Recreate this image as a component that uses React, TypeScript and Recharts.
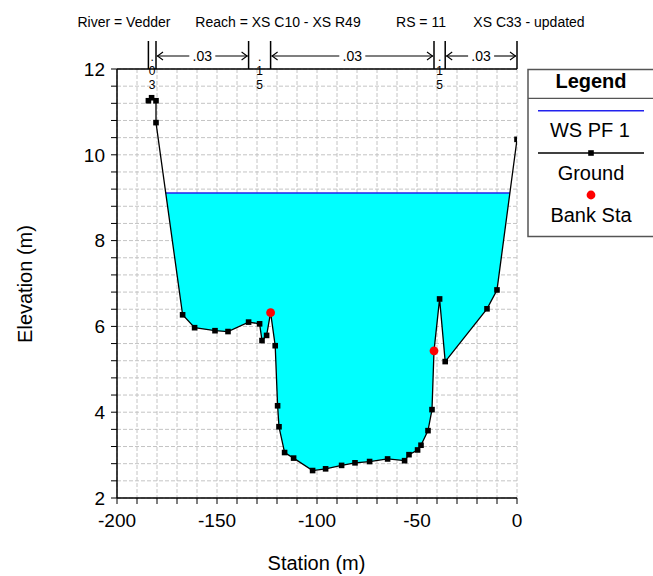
import React from 'react';
import {
  ComposedChart,
  Area,
  Line,
  XAxis,
  YAxis,
  CartesianGrid,
  ReferenceLine,
  Customized,
} from 'recharts';

const FONT = '"Liberation Sans", Arial, Helvetica, sans-serif';

const titleParts = ['River = Vedder', 'Reach = XS C10 - XS R49', 'RS = 11', 'XS C33 - updated'];
const titleCenters = [124, 278, 421, 529];

const groundStation = [
  -184.3, -182.7, -180.5, -180.5, -167.2, -161.2, -151, -144.5, -134.2, -128.7, -127.5, -125.2,
  -123.2, -120.9, -119.7, -119, -116.2, -111.7, -102.2, -95.7, -87.7, -81, -73.7, -64.7, -56.2,
  -54, -49.7, -48, -44.5, -42.5, -41.5, -38.7, -35.9, -15, -10, 0,
];
const groundElev = [
  11.26, 11.33, 11.26, 10.75, 6.27, 5.97, 5.9, 5.88, 6.1, 6.06, 5.67, 5.79, 6.32, 5.55, 4.15, 3.66,
  3.06, 2.93, 2.64, 2.68, 2.76, 2.82, 2.85, 2.91, 2.87, 3.01, 3.12, 3.23, 3.57, 4.06, 5.43, 6.64,
  5.18, 6.41, 6.85, 10.36,
];
const bankStation = [-123.2, -41.5];
const wsElevation = 9.11;

const nBreaks = [-184.3, -180.5, -134.2, -123.2, -41.5, -35.9, 0];
const nValues = ['.03', '.03', '.15', '.03', '.15', '.03'];
const nTopElev = 12.653;
const nArrowElev = 12.303;

const xTicks = [-200, -190, -180, -170, -160, -150, -140, -130, -120, -110, -100, -90, -80, -70, -60, -50, -40, -30, -20, -10, 0];
const xLabelTicks = [-200, -150, -100, -50, 0];
const yTicks = [2, 2.4, 2.8, 3.2, 3.6, 4, 4.4, 4.8, 5.2, 5.6, 6, 6.4, 6.8, 7.2, 7.6, 8, 8.4, 8.8, 9.2, 9.6, 10, 10.4, 10.8, 11.2, 11.6, 12];
const yLabelTicks = [2, 4, 6, 8, 10, 12];

type Row = {
  station: number;
  ground?: number | null;
  water?: [number, number] | null;
  ws?: number | null;
  bank?: number | null;
};

function buildRows(): Row[] {
  const n = groundStation.length;
  let leftIdx = -1;
  let rightIdx = -1;
  for (let i = 0; i < n - 1; i++) {
    if (leftIdx < 0 && groundElev[i] >= wsElevation && groundElev[i + 1] < wsElevation) leftIdx = i;
    if (groundElev[i] < wsElevation && groundElev[i + 1] >= wsElevation) rightIdx = i;
  }
  const cross = (i: number) => {
    const t = (wsElevation - groundElev[i]) / (groundElev[i + 1] - groundElev[i]);
    return groundStation[i] + t * (groundStation[i + 1] - groundStation[i]);
  };
  const rows: Row[] = [];
  for (let i = 0; i < n; i++) {
    const s = groundStation[i];
    const g = groundElev[i];
    const inWater = i > leftIdx && i <= rightIdx;
    rows.push({
      station: s,
      ground: g,
      water: inWater ? [g, wsElevation] : null,
      ws: null,
      bank: bankStation.includes(s) ? g : null,
    });
    if (i === leftIdx || i === rightIdx) {
      rows.push({
        station: cross(i),
        ground: null,
        water: [wsElevation, wsElevation],
        ws: wsElevation,
        bank: null,
      });
    }
  }
  return rows;
}

const rows = buildRows();

const GroundDot = (props: any) => {
  const { cx, cy, payload, index } = props;
  if (payload == null || payload.ground == null || cx == null || cy == null) return <g key={`gd${index}`} />;
  return <rect key={`gd${index}`} x={cx - 2.8} y={cy - 2.8} width={5.6} height={5.6} fill="#000" />;
};

const BankDot = (props: any) => {
  const { cx, cy, payload, index } = props;
  if (payload == null || payload.bank == null || cx == null || cy == null) return <g key={`bd${index}`} />;
  return <circle key={`bd${index}`} cx={cx} cy={cy} r={4.4} fill="#ff0000" />;
};

const makeRegionShape = (label: string) => (props: any) => {
  const { x1, x2, y1 } = props;
  const left = Math.min(x1, x2);
  const right = Math.max(x1, x2);
  const y = y1;
  const mid = (left + right) / 2;
  if (right - left > 30) {
    const half = 13;
    return (
      <g>
        <line x1={left + 1} y1={y} x2={mid - half} y2={y} stroke="#000" strokeWidth={1.1} />
        <line x1={mid + half} y1={y} x2={right - 1} y2={y} stroke="#000" strokeWidth={1.1} />
        <polyline points={`${left + 7},${y - 4} ${left + 1.5},${y} ${left + 7},${y + 4}`} fill="none" stroke="#000" strokeWidth={1.1} />
        <polyline points={`${right - 7},${y - 4} ${right - 1.5},${y} ${right - 7},${y + 4}`} fill="none" stroke="#000" strokeWidth={1.1} />
        <text x={mid} y={y + 5} textAnchor="middle" fontSize={14} fontFamily={FONT} fill="#000">
          {label}
        </text>
      </g>
    );
  }
  const chars = label.split('');
  return (
    <g>
      {chars.map((c, k) => (
        <text key={k} x={mid} y={y + 5 + 14 * k} textAnchor="middle" fontSize={12} fontFamily={FONT} fill="#000">
          {c}
        </text>
      ))}
    </g>
  );
};

const Decorations = () => (
  <g fontFamily={FONT}>
    {titleParts.map((t, i) => (
      <text key={i} x={titleCenters[i]} y={26.5} textAnchor="middle" fontSize={14} fill="#000">
        {t}
      </text>
    ))}
    <text x={316.5} y={569.5} textAnchor="middle" fontSize={20} fill="#000">
      Station (m)
    </text>
    <text x={31.5} y={284} textAnchor="middle" fontSize={20} fill="#000" transform="rotate(-90 31.5 284)">
      Elevation (m)
    </text>
    <g>
      <rect x={528} y={69.5} width={140} height={167} fill="#fff" stroke="#555" strokeWidth={1.5} />
      <text x={591} y={88} textAnchor="middle" fontSize={20} fontWeight="bold" fill="#000">
        Legend
      </text>
      <line x1={528} y1={98.3} x2={653} y2={98.3} stroke="#555" strokeWidth={1.2} />
      <line x1={538} y1={110.7} x2={644} y2={110.7} stroke="#2222ee" strokeWidth={1.4} />
      <text x={590} y={137} textAnchor="middle" fontSize={20} fill="#000">
        WS PF 1
      </text>
      <line x1={538} y1={153} x2={644} y2={153} stroke="#000" strokeWidth={1.3} />
      <rect x={588.2} y={150.2} width={5.6} height={5.6} fill="#000" />
      <text x={591} y={180} textAnchor="middle" fontSize={20} fill="#000">
        Ground
      </text>
      <circle cx={591} cy={195} r={4.4} fill="#ff0000" />
      <text x={591} y={221.5} textAnchor="middle" fontSize={20} fill="#000">
        Bank Sta
      </text>
    </g>
  </g>
);

export default function App() {
  return (
    <div style={{ position: 'absolute', left: 0, top: 0, width: 653, height: 576, background: '#fff' }}>
      <ComposedChart
        width={653}
        height={576}
        data={rows}
        margin={{ top: 69, right: 136, bottom: 38, left: 57 }}
      >
        <CartesianGrid stroke="#c4c4c4" strokeDasharray="4 2" />
        <XAxis
          type="number"
          dataKey="station"
          domain={[-200, 0]}
          ticks={xTicks}
          interval={0}
          allowDataOverflow
          height={40}
          tickSize={6}
          tickMargin={10}
          tickFormatter={(v: number) => (xLabelTicks.includes(v) ? String(v) : '')}
          axisLine={{ stroke: '#000', strokeWidth: 1.5 }}
          tickLine={{ stroke: '#000' }}
          tick={{ fill: '#000', fontSize: 19, fontFamily: FONT }}
        />
        <YAxis
          type="number"
          domain={[2, 12]}
          ticks={yTicks}
          interval={0}
          allowDataOverflow
          width={60}
          tickSize={6}
          tickMargin={6}
          tickFormatter={(v: number) => (yLabelTicks.includes(v) ? String(v) : '')}
          axisLine={{ stroke: '#000', strokeWidth: 1.5 }}
          tickLine={{ stroke: '#000' }}
          tick={{ fill: '#000', fontSize: 19, fontFamily: FONT }}
        />
        <Area
          type="linear"
          dataKey="water"
          fill="#00ffff"
          fillOpacity={1}
          stroke="none"
          dot={false}
          activeDot={false}
          isAnimationActive={false}
        />
        <Line
          type="linear"
          dataKey="ws"
          stroke="#2222ee"
          strokeWidth={1.4}
          dot={false}
          activeDot={false}
          connectNulls
          isAnimationActive={false}
        />
        <Line
          type="linear"
          dataKey="ground"
          stroke="#000"
          strokeWidth={1.3}
          dot={GroundDot}
          activeDot={false}
          connectNulls
          isAnimationActive={false}
        />
        <Line
          type="linear"
          dataKey="bank"
          stroke="none"
          dot={BankDot}
          activeDot={false}
          isAnimationActive={false}
        />
        <ReferenceLine y={12} stroke="#000" strokeWidth={1.5} ifOverflow="visible" />
        {nBreaks.map((b, i) => (
          <ReferenceLine
            key={`nb${i}`}
            segment={[
              { x: b, y: 12 },
              { x: b, y: nTopElev },
            ]}
            stroke="#000"
            strokeWidth={1.5}
            ifOverflow="visible"
          />
        ))}
        {nValues.map((v, i) => (
          <ReferenceLine
            key={`nv${i}`}
            segment={[
              { x: nBreaks[i], y: nArrowElev },
              { x: nBreaks[i + 1], y: nArrowElev },
            ]}
            ifOverflow="visible"
            shape={makeRegionShape(v)}
          />
        ))}
        <Customized component={<Decorations />} />
      </ComposedChart>
    </div>
  );
}
